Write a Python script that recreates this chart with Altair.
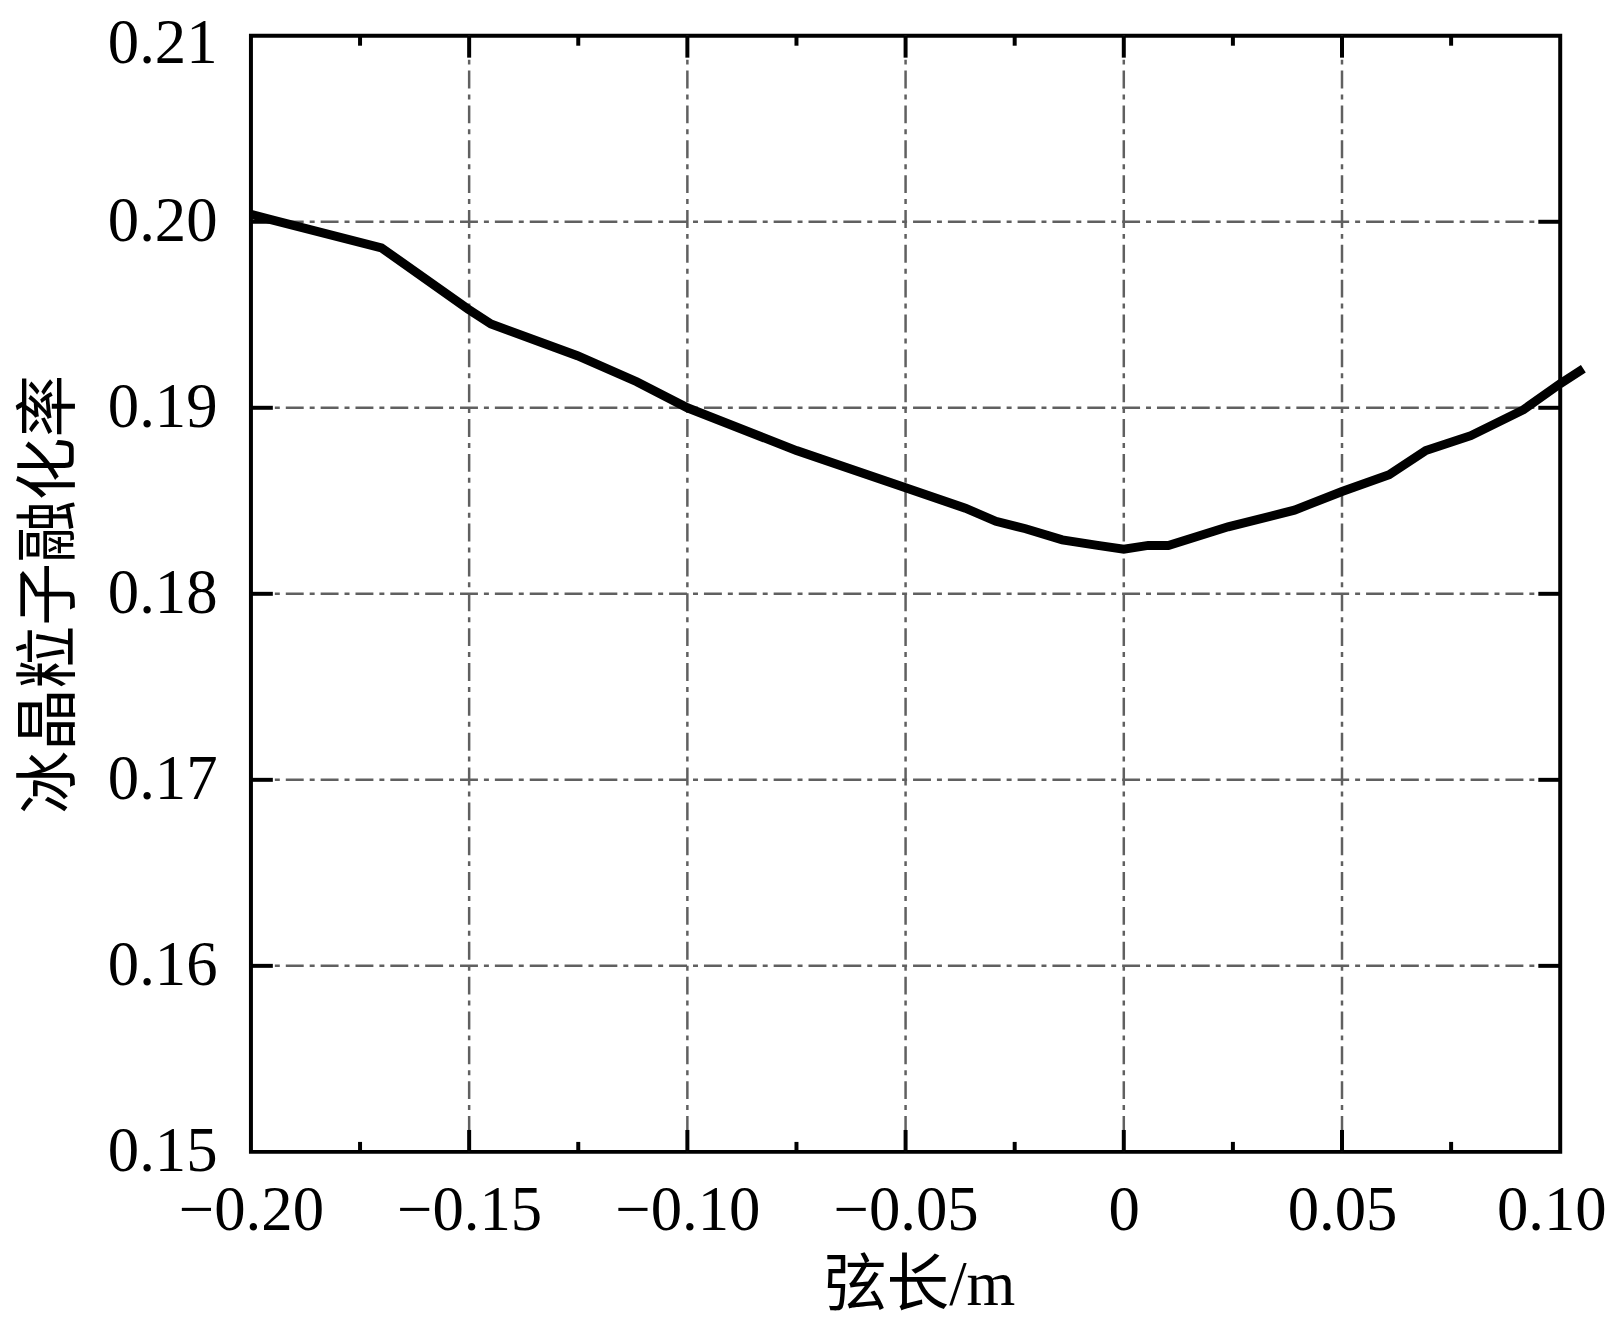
import altair as alt
import pandas as pd

# chord position (m) and melting rate
chord = [-0.2, -0.1952, -0.1701, -0.1502, -0.145, -0.1252, -0.1116, -0.1, -0.075,
         -0.05, -0.0363, -0.0293, -0.0225, -0.0141, -0.006, 0.0, 0.0056, 0.0102,
         0.0239, 0.0391, 0.05, 0.0608, 0.0692, 0.0795, 0.0916, 0.1, 0.1053]
melt = [0.2004, 0.2001, 0.1986, 0.1953, 0.1945, 0.1928, 0.1914, 0.19, 0.1877,
        0.1857, 0.1846, 0.1839, 0.1835, 0.1829, 0.1826, 0.1824, 0.1826, 0.1826,
        0.1836, 0.1845, 0.1855, 0.1864, 0.1877, 0.1885, 0.1899, 0.1913, 0.1921]

x_ticks = [-0.2, -0.15, -0.1, -0.05, 0.0, 0.05, 0.1]
x_minor = [-0.175, -0.125, -0.075, -0.025, 0.025, 0.075]
y_ticks = [0.15, 0.16, 0.17, 0.18, 0.19, 0.20, 0.21]

W, H = 1315, 1121
FONT = "Liberation Serif, Noto Sans CJK SC"

line_df = pd.DataFrame({"x": chord, "y": melt})
xin = pd.DataFrame({"x": x_ticks[1:-1]})
xmi = pd.DataFrame({"x": x_minor})
yin = pd.DataFrame({"y": y_ticks[1:-1]})

xs = alt.Scale(domain=[-0.2, 0.1], nice=False, zero=False)
ys = alt.Scale(domain=[0.15, 0.21], nice=False, zero=False)

x_axis = alt.Axis(
    values=x_ticks, grid=False, ticks=False, domain=False,
    labelExpr="datum.value == 0 ? '0' : replace(format(datum.value, '.2f'), '-', '\u2212')",
    labelFont=FONT, labelFontSize=63, labelColor="black", labelPadding=28,
    labelFlush=False, labelOverlap=False,
    labelOffset={"condition": {"test": "datum.value > 0.09", "value": -9}, "value": 0},
    title="弦长/m", titleFont=FONT, titleFontSize=63, titleFontWeight="normal",
    titleColor="black", titleX=671, titleY=134, titleBaseline="middle",
)
y_axis = alt.Axis(
    values=y_ticks, grid=False, ticks=False, domain=False, format=".2f",
    labelFont=FONT, labelFontSize=63, labelColor="black", labelPadding=34,
    labelFlush=False, labelOverlap=False,
    labelOffset={"condition": {"test": "datum.value > 0.205", "value": 8}, "value": 0},
    title="冰晶粒子融化率", titleFont=FONT, titleFontSize=63, titleFontWeight="normal",
    titleColor="black", titleX=-202, titleY=H / 2, titleBaseline="middle",
    titleAlign="center", titleAngle=-90,
)

grid_style = dict(color="#606060", strokeWidth=2.5, strokeDash=[18, 6, 5, 6])

vgrid = alt.Chart(xin).mark_rule(**grid_style).encode(
    x=alt.X("x:Q", scale=xs, axis=x_axis), y=alt.value(0), y2=alt.value(H))
hgrid = alt.Chart(yin).mark_rule(**grid_style).encode(
    y=alt.Y("y:Q", scale=ys, axis=y_axis), x=alt.value(0), x2=alt.value(W))

tick = dict(color="black", strokeWidth=4)
xt_bot = alt.Chart(xin).mark_rule(**tick).encode(
    x=alt.X("x:Q", scale=xs), y=alt.value(H), y2=alt.value(H - 22))
xt_top = alt.Chart(xin).mark_rule(**tick).encode(
    x=alt.X("x:Q", scale=xs), y=alt.value(0), y2=alt.value(22))
xm_bot = alt.Chart(xmi).mark_rule(**tick).encode(
    x=alt.X("x:Q", scale=xs), y=alt.value(H), y2=alt.value(H - 10))
xm_top = alt.Chart(xmi).mark_rule(**tick).encode(
    x=alt.X("x:Q", scale=xs), y=alt.value(0), y2=alt.value(10))
yt_l = alt.Chart(yin).mark_rule(**tick).encode(
    y=alt.Y("y:Q", scale=ys), x=alt.value(0), x2=alt.value(22))
yt_r = alt.Chart(yin).mark_rule(**tick).encode(
    y=alt.Y("y:Q", scale=ys), x=alt.value(W), x2=alt.value(W - 22))

curve = alt.Chart(line_df).mark_line(color="black", strokeWidth=9, clip=False).encode(
    x=alt.X("x:Q", scale=xs), y=alt.Y("y:Q", scale=ys))

chart = (
    alt.layer(vgrid, hgrid, xt_bot, xt_top, xm_bot, xm_top, yt_l, yt_r, curve)
    .properties(
        width=W, height=H,
        autosize=alt.AutoSizeParams(type="none"),
        padding={"left": 244, "top": 25, "right": 50, "bottom": 168},
        background="white",
    )
    .configure_view(stroke="black", strokeWidth=4)
)

chart.save("out.html", embed_options={"renderer": "svg", "actions": False})
